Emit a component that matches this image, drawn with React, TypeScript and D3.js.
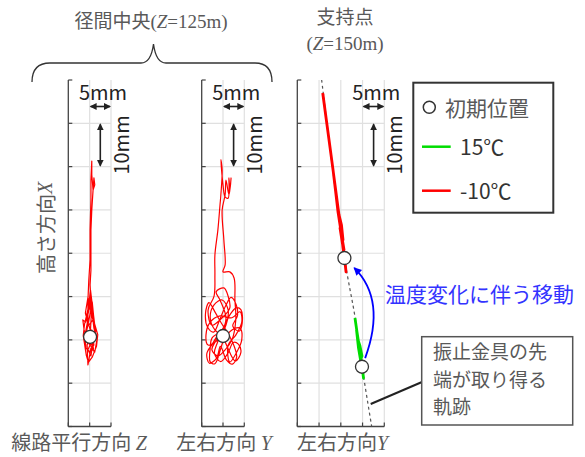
import React from 'react'
import * as d3 from 'd3'

// all positions in mm; origin = initial position of panels 1/2
const yTicks = [-20, -10, 0, 10, 20, 30, 40, 50, 60]

// 径間中央 線路平行方向 Z  [z, x]
const midZ: [number, number][] = [
  [0.1, 0.7], [-0.6, -1.2], [-0.4, -5.8], [0.3, -1.9], [1.2, -2.8], [1.7, 0.0],
  [1.0, 2.7], [0.5, 6.9], [0.1, 10.4], [-0.2, 6.9], [-0.9, 4.1], [-1.6, 4.6],
  [-1.3, 2.3], [-0.6, 0.0], [0.5, -1.2], [1.5, 0.9], [0.8, 4.6], [-0.2, 3.4],
  [0.8, 0.4], [-0.4, -2.3], [0.3, -3.7], [1.2, 2.3], [0.1, 8.0], [-0.6, 5.1],
  [0.3, 9.2], [0.1, 12.7], [0.3, 16.1], [0.3, 20.8], [0.3, 25.4], [0.5, 30.0],
  [0.8, 34.6], [1.2, 35.8], [1.0, 37.4], [0.8, 34.6], [0.5, 38.1], [0.5, 41.3],
  [0.3, 36.9], [0.3, 32.3], [0.1, 25.4], [0.1, 18.5], [-0.2, 13.8], [-0.4, 9.2],
  [-0.4, 4.6], [-1.1, 1.1], [-0.9, -1.9], [0.1, -2.8], [1.0, -1.2], [0.5, 2.3],
  [0.4, -0.5], [1.4, 1.8], [0.9, 5.8], [0.2, 11.5], [-0.3, 7.5], [-1.2, 3.6],
  [-1.5, 1.0], [-0.8, -3.5], [-0.3, -5.2], [0.6, -4.0], [1.6, -1.5], [1.9, 1.2],
  [1.1, 3.9], [0.6, 8.8], [0.0, 5.5], [-0.7, 2.0], [-0.1, -1.0], [0.9, -2.2],
  [0.4, 1.6], [-0.5, 4.3], [-1.0, 6.2], [-0.4, 9.8], [0.4, 6.0], [0.1, 0.7]
]

// 径間中央 左右方向 Y  [y, x]
const midY: [number, number][] = [
  [0, 0.9], [-1.9, 2.3], [-3.0, 5.1], [-2.1, 8.1], [-0.2, 9.2], [1.2, 6.9],
  [0.7, 3.4], [-1.2, 0.0], [-3.5, -1.2], [-4.0, 1.1], [-3.0, 4.1], [-0.9, 5.5],
  [2.1, 5.1], [4.0, 6.5], [4.4, 4.1], [3.0, 1.1], [1.2, -1.2], [1.6, -5.1],
  [3.5, -2.3], [4.4, 0.0], [4.0, 2.7], [2.1, 2.3], [0.2, 0.0], [-1.9, -5.5],
  [-3.0, -5.1], [-3.0, -1.9], [-2.6, 0.4], [-0.2, 2.3], [0.7, 5.1], [-0.7, 9.2],
  [-1.6, 11.1], [0.2, 12.0], [1.2, 10.1], [1.6, 7.4], [-0.2, 5.1], [-2.6, 3.4],
  [-3.5, 6.9], [-2.1, 10.1], [-1.9, 15.0], [-1.9, 19.6], [-1.2, 25.4], [-0.7, 31.2],
  [-0.5, 33.5], [-0.2, 39.3], [-0.5, 41.6], [0, 35.8], [0.5, 33.0], [1.2, 32.7],
  [1.4, 37.4], [1.6, 34.6], [1.9, 37.4], [1.4, 33.5], [0.7, 36.9], [0.5, 33.5],
  [-0.2, 30.0], [0.2, 23.1], [0.5, 17.3], [0, 15.7], [1.6, 15.7], [2.6, 14.3],
  [2.8, 9.2], [3.0, 4.6], [2.1, 0.0], [0.5, -2.3], [-1.2, -3.7], [-2.6, -2.3],
  [-1.6, 0.0], [-1.0, 1.5], [-2.4, -0.8], [-3.8, -3.2], [-3.2, -5.4], [-1.5, -4.2],
  [-0.6, -1.5], [0.8, -4.6], [2.2, -5.6], [3.2, -4.0], [2.6, -1.4], [1.0, 1.8],
  [-0.4, 3.9], [-1.8, 6.3], [-3.3, 8.6], [-4.1, 6.2], [-3.6, 2.9], [-2.2, 1.8],
  [-0.8, 4.6], [0.6, 7.8], [1.9, 9.8], [3.1, 8.1], [3.4, 5.6], [2.3, 3.2],
  [3.8, 2.0], [4.5, 3.8], [4.2, 7.0], [3.1, 7.4], [1.5, 5.6], [0.2, 2.9],
  [-1.3, -0.6], [-2.0, -3.2], [-0.5, -5.0], [1.2, -3.0], [2.4, -0.6], [3.6, -1.0],
  [4.2, -2.9], [2.9, -4.9], [1.0, -1.6], [0, 0.9]
]

// 支持点 左右方向 Y  [y, x]
const supRed: [number, number][] = [
  [5.84, 57.0], [6.83, 49.6], [7.75, 42.7], [8.67, 35.8], [9.36, 30.5], [10.05, 25.4],
  [10.51, 21.2], [10.85, 18.9], [11.2, 15.7], [10.97, 18.0], [10.39, 22.2], [9.82, 25.8],
  [10.51, 23.1], [10.16, 26.5], [9.59, 28.9], [10.05, 24.9], [10.74, 20.8], [10.28, 23.6],
  [9.36, 29.5], [8.9, 33.5], [8.21, 39.3], [7.29, 46.2], [6.37, 53.1], [5.91, 56.6]
]
const supGreen: [number, number][] = [
  [13.26, 5.06], [13.72, 1.85], [14.18, -1.2], [14.64, -4.2], [14.99, -6.95], [15.22, -8.8],
  [14.87, -6.0], [14.41, -2.8], [13.95, 0.0], [14.41, -1.4], [14.87, -3.7], [14.53, -4.6],
  [14.07, -1.9], [13.61, 2.3]
]
const supPath: [number, number][] = [[5.6, 60], [10.85, 18.9], [13.3, 5.1], [14.9, -6.3], [17.1, -20]]
const supStart15 = [14.87, -6.2]
const supStartM10 = [10.83, 18.9]
const moveArrow: [number, number][] = [[15.6, -4.2], [20.5, 9.2], [13.1, 16.6]]

const noteLines = ['振止金具の先', '端が取り得る', '軌跡']

const fontJP = '"Noto Sans CJK JP", "Noto Sans", sans-serif'
const fontSerif = '"Liberation Serif", "DejaVu Serif", serif'
const grey = '#595959'

const yScale = d3.scaleLinear().domain([-20, 60]).range([426.5, 80])
const x1 = d3.scaleLinear().domain([-5, 5]).range([68.3, 111])
const x2 = d3.scaleLinear().domain([-5, 5]).range([201.7, 244.3])
const x3 = d3.scaleLinear().domain([0, 20]).range([297.3, 384.3])

type Scale = d3.ScaleLinear<number, number>

const Frame = ({ x }: { x: Scale }) => {
  const [d0, d1] = x.domain()
  const xt = d3.range(d0, d1 + 0.01, 5)
  const [left, right] = x.range()
  const bottom = yScale(-20)
  const top = yScale(60)
  return (
    <g>
      {yTicks.slice(1, -1).map(t => (
        <line key={'h' + t} x1={left} x2={right} y1={yScale(t)} y2={yScale(t)} stroke="#e0e0e0" strokeWidth={1.2} />
      ))}
      {xt.slice(1).map(t => (
        <line key={'v' + t} x1={x(t)} x2={x(t)} y1={top} y2={bottom} stroke="#e0e0e0" strokeWidth={1.2} />
      ))}
      <line x1={left} x2={left} y1={top} y2={bottom} stroke="#444" strokeWidth={1.3} />
      <line x1={left} x2={right} y1={bottom} y2={bottom} stroke="#444" strokeWidth={1.3} />
      {yTicks.map(t => (
        <line key={'yt' + t} x1={left} x2={left + 4} y1={yScale(t)} y2={yScale(t)} stroke="#444" strokeWidth={1.2} />
      ))}
      {xt.map(t => (
        <line key={'xt' + t} x1={x(t)} x2={x(t)} y1={bottom} y2={bottom - 4} stroke="#444" strokeWidth={1.2} />
      ))}
    </g>
  )
}

const ScaleMark = ({ x }: { x: Scale }) => {
  const d1 = x.domain()[1]
  const R = x(d1)
  const L = x(d1 - 5)
  const vx = R - 10.7
  return (
    <g fill="#222" fontFamily={fontJP} fontSize={20}>
      <text x={R - 8} y={91} textAnchor="middle" dominantBaseline="central">5mm</text>
      <line x1={L + 1} x2={R - 1} y1={106.5} y2={106.5} stroke="#222" strokeWidth={1.6}
        markerStart="url(#ah)" markerEnd="url(#ah)" />
      <line x1={vx} x2={vx} y1={yScale(50) + 1} y2={yScale(40) - 1} stroke="#222" strokeWidth={1.6}
        markerStart="url(#ah)" markerEnd="url(#ah)" />
      <text transform={`translate(${R + 9},${(yScale(50) + yScale(40)) / 2}) rotate(-90)`}
        textAnchor="middle" dominantBaseline="central">10mm</text>
    </g>
  )
}

export default function App() {
  const line1 = d3.line<[number, number]>().x(d => x1(d[0])).y(d => yScale(d[1]))
  const line2 = d3.line<[number, number]>().x(d => x2(d[0])).y(d => yScale(d[1])).curve(d3.curveCatmullRom.alpha(0.5))
  const line3 = d3.line<[number, number]>().x(d => x3(d[0])).y(d => yScale(d[1]))
  const guide = d3.line<[number, number]>().x(d => x3(d[0])).y(d => yScale(d[1])).curve(d3.curveCatmullRom)
  const [a0, ac, a1] = moveArrow.map(p => [x3(p[0]), yScale(p[1])])

  return (
    <svg width={585} height={457} style={{ position: 'absolute', left: 0, top: 0, background: '#fff' }}>
      <defs>
        <marker id="ah" markerUnits="userSpaceOnUse" markerWidth={8} markerHeight={8} refX={6} refY={3.5} orient="auto-start-reverse">
          <path d="M0,0 L7,3.5 L0,7 Z" fill="#222" />
        </marker>
        <marker id="ab" markerUnits="userSpaceOnUse" markerWidth={10} markerHeight={10} refX={7} refY={4} orient="auto">
          <path d="M0,0 L8,4 L0,8 Z" fill="#0000ff" />
        </marker>
      </defs>

      {/* titles */}
      <text x={151} y={28} textAnchor="middle" fontSize={19} fill={grey}>
        <tspan fontFamily={fontJP}>径間中央</tspan>
        <tspan fontFamily={fontSerif}>(<tspan fontStyle="italic">Z</tspan>=125m)</tspan>
      </text>
      <path d="M32,82 Q32,63 50,63 L141,63 Q151,63 153.5,44 Q156,63 166,63 L255,63 Q272,63 272,82"
        fill="none" stroke="#333" strokeWidth={1.3} />
      <text x={345} y={24} textAnchor="middle" fontSize={19} fill={grey} fontFamily={fontJP}>支持点</text>
      <text x={345} y={50} textAnchor="middle" fontSize={19} fill={grey} fontFamily={fontSerif}>
        (<tspan fontStyle="italic">Z</tspan>=150m)
      </text>

      <Frame x={x1} />
      <Frame x={x2} />
      <Frame x={x3} />

      {/* trajectories */}
      <path d={line1(midZ) || ''} fill="none" stroke="#ff0000" strokeWidth={1.2} strokeLinejoin="round" />
      <path d={line2(midY) || ''} fill="none" stroke="#ff0000" strokeWidth={1.2} strokeLinejoin="round" />
      <path d={guide(supPath) || ''} fill="none" stroke="#555" strokeWidth={1.2} strokeDasharray="3,3" />
      <path d={line3(supRed) || ''} fill="none" stroke="#ff0000" strokeWidth={2.8} strokeLinejoin="round" />
      <path d={line3(supGreen) || ''} fill="none" stroke="#00dd00" strokeWidth={2.8} strokeLinejoin="round" />

      <circle cx={x1(0.1)} cy={yScale(0.7)} r={6.5} fill="#fff" stroke="#333" strokeWidth={1.3} />
      <circle cx={x2(0)} cy={yScale(0.9)} r={6.5} fill="#fff" stroke="#333" strokeWidth={1.3} />
      <circle cx={x3(supStartM10[0])} cy={yScale(supStartM10[1])} r={6.5} fill="#fff" stroke="#333" strokeWidth={1.3} />
      <circle cx={x3(supStart15[0])} cy={yScale(supStart15[1])} r={6.5} fill="#fff" stroke="#333" strokeWidth={1.3} />

      <ScaleMark x={x1} />
      <ScaleMark x={x2} />
      <ScaleMark x={x3} />

      {/* movement arrow */}
      <path d={`M${a0[0]},${a0[1]} Q${ac[0]},${ac[1]} ${a1[0]},${a1[1]}`} fill="none" stroke="#0000ff"
        strokeWidth={1.8} markerEnd="url(#ab)" />
      <text x={385} y={302} fontSize={21} fill="#3333ff" fontFamily={fontJP}>温度変化に伴う移動</text>

      {/* trace note */}
      <line x1={370.7} y1={404} x2={422} y2={382} stroke="#222" strokeWidth={2} />
      <rect x={421.7} y={336.7} width={151} height={88.3} fill="#fff" stroke="#555" strokeWidth={1.5} />
      <text fontFamily={fontJP} fontSize={19} fill={grey}>
        {noteLines.map((s, i) => (
          <tspan key={s} x={433} y={359 + i * 27.5}>{s}</tspan>
        ))}
      </text>

      {/* legend */}
      <rect x={413.3} y={82.7} width={140} height={130} fill="#fff" stroke="#333" strokeWidth={2} />
      <circle cx={429.3} cy={107.3} r={6} fill="#fff" stroke="#333" strokeWidth={1.5} />
      <line x1={422} x2={450.7} y1={146.7} y2={146.7} stroke="#00dd00" strokeWidth={2.5} />
      <line x1={422} x2={450.7} y1={190.7} y2={190.7} stroke="#ff0000" strokeWidth={2.5} />
      <g fontFamily={fontJP} fontSize={21} dominantBaseline="central">
        <text x={445} y={107} fill={grey}>初期位置</text>
        <text x={460} y={146} fill="#333">15℃</text>
        <text x={460} y={190} fill="#333">-10℃</text>
      </g>

      {/* axis labels */}
      <text transform={`translate(45,228) rotate(-90)`} textAnchor="middle" dominantBaseline="central"
        fontSize={20} fill={grey}>
        <tspan fontFamily={fontJP}>高さ方向</tspan>
        <tspan fontFamily={fontSerif} fontStyle="italic">X</tspan>
      </text>
      <text x={79} y={450} textAnchor="middle" fontSize={20} fill={grey}>
        <tspan fontFamily={fontJP}>線路平行方向 </tspan>
        <tspan fontFamily={fontSerif} fontStyle="italic">Z</tspan>
      </text>
      <text x={224} y={450} textAnchor="middle" fontSize={20} fill={grey}>
        <tspan fontFamily={fontJP}>左右方向 </tspan>
        <tspan fontFamily={fontSerif} fontStyle="italic">Y</tspan>
      </text>
      <text x={297} y={450} fontSize={20} fill={grey}>
        <tspan fontFamily={fontJP}>左右方向</tspan>
        <tspan fontFamily={fontSerif} fontStyle="italic">Y</tspan>
      </text>
    </svg>
  )
}
